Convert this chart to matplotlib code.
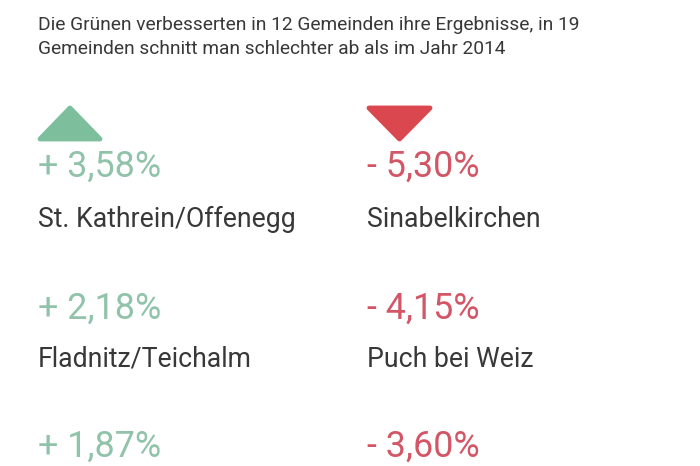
import matplotlib
matplotlib.use("Agg")
import matplotlib.pyplot as plt
from matplotlib.patches import Polygon

title_lines = ["Die Grünen verbesserten in 12 Gemeinden ihre Ergebnisse, in 19",
               "Gemeinden schnitt man schlechter ab als im Jahr 2014"]
gain_values = ["+ 3,58%", "+ 2,18%", "+ 1,87%"]
gain_names = ["St. Kathrein/Offenegg", "Fladnitz/Teichalm"]
loss_values = ["- 5,30%", "- 4,15%", "- 3,60%"]
loss_names = ["Sinabelkirchen", "Puch bei Weiz"]

FAM = ["Roboto", "DejaVu Sans"]
GREEN_TRI = "#7dbf9d"
GREEN_TXT = "#90c3a9"
RED_TRI = "#db474e"
RED_TXT = "#d35666"
DARK = "#383838"

W, H = 700, 466
fig = plt.figure(figsize=(7, 4.66), dpi=100)
ax = fig.add_axes([0, 0, 1, 1])
ax.set_xlim(0, W)
ax.set_ylim(H, 0)
ax.axis("off")

# title
for i, line in enumerate(title_lines):
    ax.text(38, 30 + i * 23.5, line, fontsize=13.8, color=DARK, family=FAM,
            va="baseline", ha="left")

# triangles (rounded corners via thick round-joined edge)
lw = 3.5
ax.add_patch(Polygon([(40, 139), (100, 139), (70, 108)], closed=True,
                     facecolor=GREEN_TRI, edgecolor=GREEN_TRI, lw=lw, joinstyle="round"))
ax.add_patch(Polygon([(369, 108), (430, 108), (399.5, 139)], closed=True,
                     facecolor=RED_TRI, edgecolor=RED_TRI, lw=lw, joinstyle="round"))

val_base = [177, 319, 457]
name_base = [227, 367]
cols = [(38, gain_values, gain_names, GREEN_TXT), (367, loss_values, loss_names, RED_TXT)]
for x, vals, names, c in cols:
    for v, yb in zip(vals, val_base):
        ax.text(x, yb, v, fontsize=25.8, color=c, family=FAM,
                va="baseline", ha="left")
    for n, yb in zip(names, name_base):
        ax.text(x, yb, n, fontsize=19.2, color=DARK, family=FAM, va="baseline", ha="left")

fig.savefig("out.png", dpi=100)
